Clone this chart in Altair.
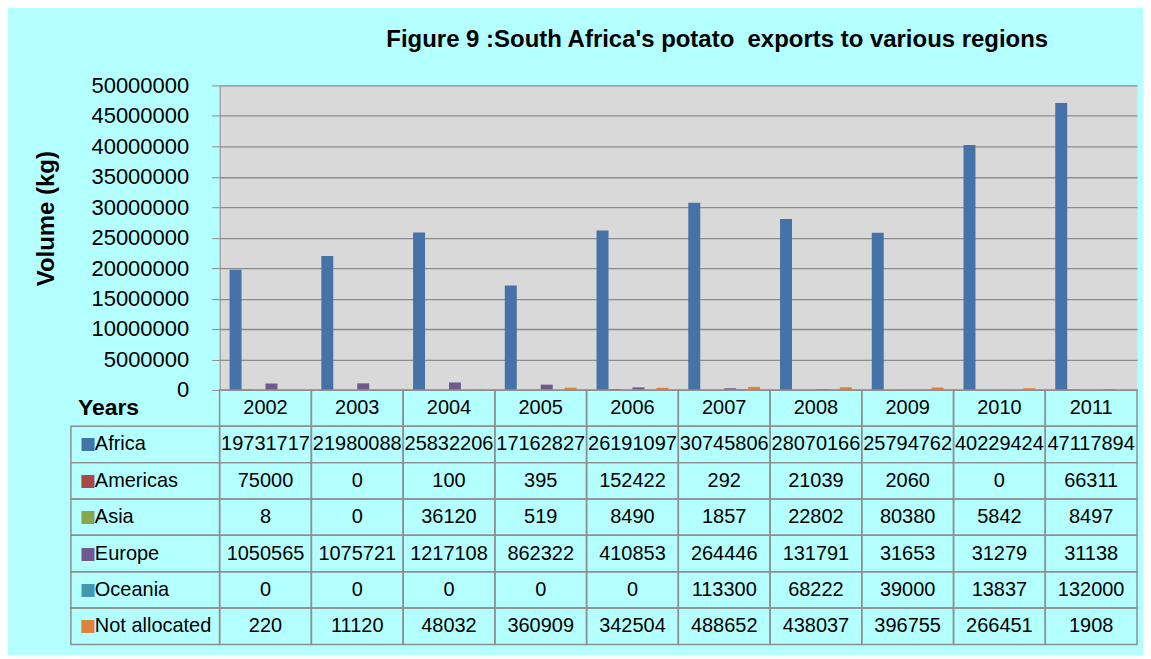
import altair as alt
import pandas as pd

# ---------------- data ----------------
years = ["2002", "2003", "2004", "2005", "2006", "2007", "2008", "2009", "2010", "2011"]
regions = ["Africa", "Americas", "Asia", "Europe", "Oceania", "Not allocated"]
africa = [19731717, 21980088, 25832206, 17162827, 26191097, 30745806, 28070166, 25794762, 40229424, 47117894]
americas = [75000, 0, 100, 395, 152422, 292, 21039, 2060, 0, 66311]
asia = [8, 0, 36120, 519, 8490, 1857, 22802, 80380, 5842, 8497]
europe = [1050565, 1075721, 1217108, 862322, 410853, 264446, 131791, 31653, 31279, 31138]
oceania = [0, 0, 0, 0, 0, 113300, 68222, 39000, 13837, 132000]
not_allocated = [220, 11120, 48032, 360909, 342504, 488652, 438037, 396755, 266451, 1908]
y_ticks = [0, 5000000, 10000000, 15000000, 20000000, 25000000, 30000000,
           35000000, 40000000, 45000000, 50000000]
colors = ["#4572A7", "#AA4643", "#89A54E", "#71588F", "#4198AF", "#DB843D"]

title_text = "Figure 9 :South Africa's potato \u00a0exports to various regions"
header_label = "Years"

series = [africa, americas, asia, europe, oceania, not_allocated]
rows = []
for reg, vals in zip(regions, series):
    for yr, v in zip(years, vals):
        rows.append({"Year": yr, "Region": reg, "Row": reg, "Volume": v, "Label": str(v)})
df = pd.DataFrame(rows)

df_header = pd.DataFrame({"Year": years, "Row": [header_label] * len(years), "Label": years})
df_cells = pd.concat([df[["Year", "Row"]], df_header[["Year", "Row"]]], ignore_index=True)
df_rowlab = pd.DataFrame({"Col": ["label"] * len(regions), "Row": regions, "Region": regions})
df_years_lab = pd.DataFrame({"Col": ["label"], "Row": [header_label], "Label": [header_label]})

FONT = "Liberation Sans"
GRID = "#8C8C8C"
LINE = "#8F8F8F"
W, H = 919, 305
COLW = 149

row_domain = [header_label] + regions

x_year = alt.X("Year:N", scale=alt.Scale(domain=years, paddingInner=0, paddingOuter=0), axis=None)
y_row = alt.Y("Row:N", scale=alt.Scale(domain=row_domain, range=[305, 560], paddingInner=0, paddingOuter=0), axis=None)
x_col = alt.X("Col:N", scale=alt.Scale(domain=["label"], range=[-COLW, 0], paddingInner=0, paddingOuter=0),
              axis=None)
color = alt.Color("Region:N", scale=alt.Scale(domain=regions, range=colors), legend=None)

bars = alt.Chart(df).mark_bar().encode(
    x=x_year,
    xOffset=alt.XOffset("Region:N", scale=alt.Scale(domain=regions, paddingInner=0, paddingOuter=0.833)),
    y=alt.Y("Volume:Q",
            scale=alt.Scale(domain=[0, 50000000], nice=False),
            axis=alt.Axis(values=y_ticks, format="d", title="Volume (kg)",
                          titleFontSize=24, titleFontWeight="bold", titleFont=FONT, titleColor="black",
                          titleAngle=270, titleX=-173, titleY=133, titleAlign="center",
                          titleBaseline="middle",
                          labelFontSize=22, labelFont=FONT, labelColor="black", labelPadding=23,
                          labelFlush=False, labelOverlap=False,
                          tickSize=8, tickColor=GRID, domainColor=GRID, gridColor=GRID,
                          gridWidth=1.3)),
    color=color,
)

cells = alt.Chart(df_cells).mark_rect(fillOpacity=0, stroke=LINE, strokeWidth=1.5).encode(
    x=x_year, y=y_row)

values_text = alt.Chart(df).mark_text(fontSize=20, font=FONT, color="black", baseline="middle").encode(
    x=x_year, y=y_row, text="Label:N")

header_text = alt.Chart(df_header).mark_text(fontSize=20, font=FONT, color="black", baseline="middle").encode(
    x=x_year, y=y_row, text="Label:N")

label_cells = alt.Chart(df_rowlab).mark_rect(fillOpacity=0, stroke=LINE, strokeWidth=1.5).encode(
    x=x_col, y=y_row)

# text in the label column is anchored at the band centre; dx shifts it to the left edge
swatches = alt.Chart(df_rowlab).mark_text(text="\u25A0", fontSize=17, font="DejaVu Sans", align="left",
                                          baseline="middle", dx=-COLW / 2 + 9).encode(
    x=x_col, y=y_row, color=color)

row_labels = alt.Chart(df_rowlab).mark_text(fontSize=20, font=FONT, color="black", align="left",
                                            baseline="middle", dx=-COLW / 2 + 24).encode(
    x=x_col, y=y_row, text="Region:N")

years_label = alt.Chart(df_years_lab).mark_text(fontSize=23, font=FONT, fontWeight="bold", color="black",
                                                align="left", baseline="middle", dx=-COLW / 2 + 7).encode(
    x=x_col, y=y_row, text="Label:N")

chart = alt.layer(
    bars, cells, values_text, header_text, label_cells, swatches, row_labels, years_label
).resolve_scale(
    x="independent", y="independent"
).properties(
    width=W, height=H,
    title=alt.Title(title_text, fontSize=24, font=FONT, fontWeight="bold", color="black",
                    anchor="middle", dx=39, offset=23),
    autosize=alt.AutoSizeParams(type="none"),
    padding={"left": 212, "top": 77, "right": 6, "bottom": 265},
).configure(
    background="#B4FFFF"
).configure_view(
    fill="#D9D9D9", stroke="transparent"
)

chart.save("out.html", embed_options={"renderer": "svg", "actions": False})
